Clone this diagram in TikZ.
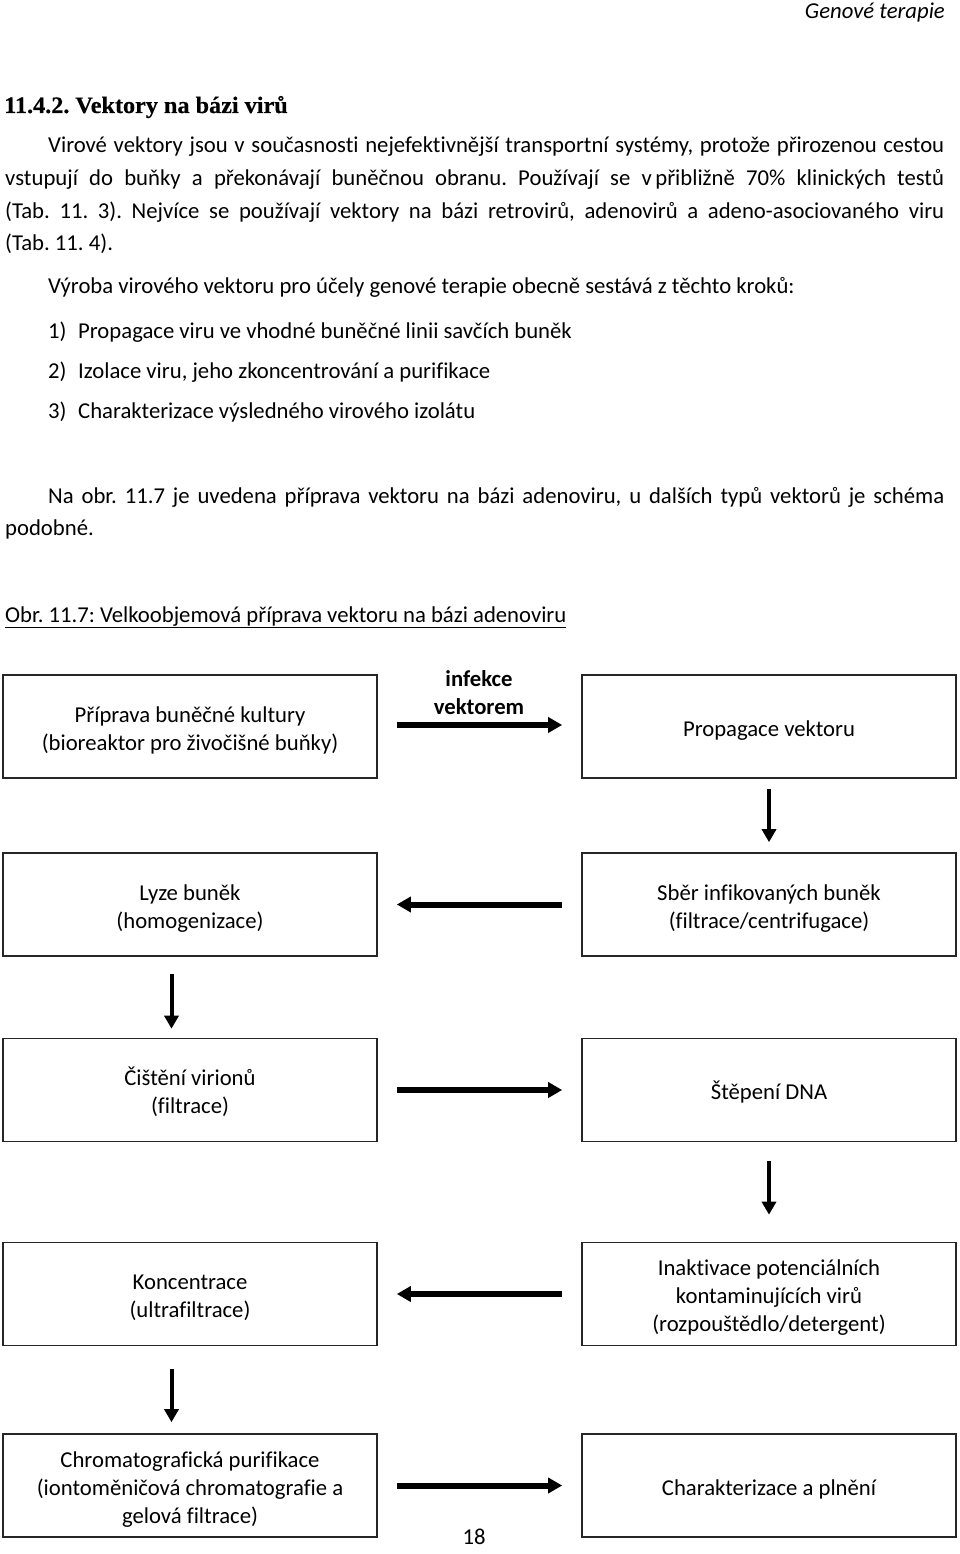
\documentclass[tikz,border=0pt]{standalone}
\usepackage{fontspec}
\setmainfont[Ligatures=NoCommon]{Carlito}
\newfontfamily\headf[FakeStretch=1.03,BoldFeatures={FakeBold=0.5}]{Liberation Serif}
\usetikzlibrary{arrows.meta,calc}
\newcommand{\bxt}[1]{\raisebox{-4pt}[\height][\depth]{\begin{tabular}{@{}c@{}}#1\end{tabular}}}
\begin{document}
\frenchspacing
\begin{tikzpicture}[x=1pt,y=-1pt]
\useasboundingbox (0,0) rectangle (960,1554);
\tikzset{
 txt/.style={anchor=base west, inner sep=0pt, font=\fontsize{22.7}{28}\selectfont},
 stepbox/.style={draw, line width=1.6pt, draw=black!85, minimum width=374pt, minimum height=103pt, align=center, inner sep=2pt, font=\fontsize{22.7}{28}\selectfont},
 harrow/.style={line width=6pt, -{Triangle[length=14pt,width=15pt]}},
 varrow/.style={line width=4pt, -{Triangle[length=13pt,width=14pt]}},
}
% header and text
\node[anchor=base east, inner sep=0pt, font=\itshape\fontsize{22.7}{28}\selectfont] (hdr) at (945,19) {Genové terapie};
\node[anchor=base west, inner sep=0pt, font=\headf\bfseries\fontsize{23.5}{28}\selectfont] (head) at (4,113) {11.4.2. Vektory na bázi virů};
\node[txt] (p1a) at (48,153) {\makebox[896pt][s]{Virové vektory jsou v současnosti nejefektivnější transportní systémy, protože přirozenou cestou}};
\node[txt] (p1b) at (5,186) {\makebox[939pt][s]{vstupují do buňky a překonávají buněčnou obranu. Používají se v\kern0.15em přibližně 70\% klinických testů}};
\node[txt] (p1c) at (5,219) {\makebox[939pt][s]{(Tab. 11. 3). Nejvíce se používají vektory na bázi retrovirů, adenovirů a adeno-asociovaného viru}};
\node[txt] (p1d) at (5,251) {(Tab. 11. 4).};
\node[txt] (p2) at (48,293) {Výroba virového vektoru pro účely genové terapie obecně sestává z těchto kroků:};
\node[txt] (n1) at (48,338) {1)};
\node[txt] (i1) at (78,338) {Propagace viru ve vhodné buněčné linii savčích buněk};
\node[txt] (n2) at (48,378) {2)};
\node[txt] (i2) at (78,378) {Izolace viru, jeho zkoncentrování a purifikace};
\node[txt] (n3) at (48,418) {3)};
\node[txt] (i3) at (78,418) {Charakterizace výsledného virového izolátu};
\node[txt] (p3a) at (48,503) {\makebox[896pt][s]{Na obr. 11.7 je uvedena příprava vektoru na bázi adenoviru, u dalších typů vektorů je schéma}};
\node[txt] (p3b) at (5,535) {podobné.};
\node[txt] (cap) at (5,622) {\underline{Obr. 11.7: Velkoobjemová příprava vektoru na bázi adenoviru}};
% boxes
\node[stepbox] (b1) at (190,726.5) {\bxt{Příprava buněčné kultury\\(bioreaktor pro živočišné buňky)}};
\node[stepbox] (b2) at (769,726.5) {\bxt{Propagace vektoru}};
\node[stepbox] (b3) at (769,904.5) {\bxt{Sběr infikovaných buněk\\(filtrace/centrifugace)}};
\node[stepbox] (b4) at (190,904.5) {\bxt{Lyze buněk\\(homogenizace)}};
\node[stepbox] (b5) at (190,1090) {\bxt{Čištění virionů\\(filtrace)}};
\node[stepbox] (b6) at (769,1090) {\bxt{Štěpení DNA}};
\node[stepbox] (b7) at (769,1294) {\bxt{Inaktivace potenciálních\\kontaminujících virů\\(rozpouštědlo/detergent)}};
\node[stepbox] (b8) at (190,1294) {\bxt{Koncentrace\\(ultrafiltrace)}};
\node[stepbox] (b9) at (190,1485.5) {\bxt{Chromatografická purifikace\\(iontoměničová chromatografie a\\gelová filtrace)}};
\node[stepbox] (b10) at (769,1485.5) {\bxt{Charakterizace a plnění}};
\node[align=center, inner sep=0pt, font=\bfseries\fontsize{22.7}{28}\selectfont] (lab) at (479,693) {infekce\\vektorem};
\node[anchor=base, inner sep=0pt, font=\fontsize{22.7}{28}\selectfont] (pg) at (474,1544) {18};
% arrows
\draw[harrow, shorten <=19pt, shorten >=19pt] ([yshift=1.5pt]b1.east) -- ([yshift=1.5pt]b2.west);
\draw[varrow, shorten <=10pt, shorten >=10pt] (b2.south) -- (b3.north);
\draw[harrow, shorten <=19pt, shorten >=19pt] (b3.west) -- (b4.east);
\draw[varrow, shorten <=17pt, shorten >=9pt] ([xshift=-18.5pt]b4.south) -- ([xshift=-18.5pt]b5.north);
\draw[harrow, shorten <=19pt, shorten >=19pt] (b5.east) -- (b6.west);
\draw[varrow, shorten <=18.5pt, shorten >=27pt] (b6.south) -- (b7.north);
\draw[harrow, shorten <=19pt, shorten >=19pt] (b7.west) -- (b8.east);
\draw[varrow, shorten <=22.5pt, shorten >=11pt] ([xshift=-18.5pt]b8.south) -- ([xshift=-18.5pt]b9.north);
\draw[harrow, shorten <=19pt, shorten >=19pt] (b9.east) -- (b10.west);
\end{tikzpicture}
\end{document}
